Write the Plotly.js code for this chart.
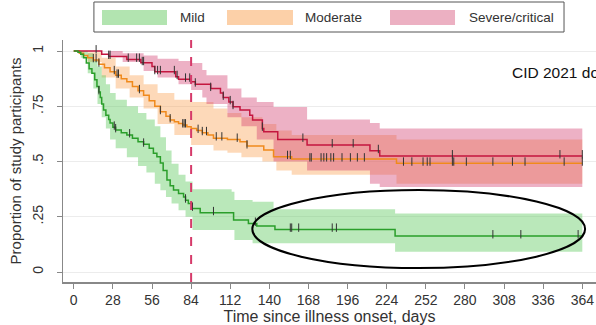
<!DOCTYPE html>
<html>
<head>
<meta charset="utf-8">
<script src="https://cdn.plot.ly/plotly-3.0.1.min.js"></script>
<style>html,body{margin:0;padding:0;overflow:hidden;background:#fff}#chart{width:596px;height:325px}</style>
</head>
<body>
<div id="chart"></div>
<script>
// ---------- data ----------
const groupNames = ["Mild", "Moderate", "Severe/critical"];

const mildTime = [0,3,5,7,9,11,13,15,16.6,18,19,20,21.3,23,25,26,28,30,34,38,42,46,50,54,57,59.5,62,64,66.7,69,71.4,75,78.6,80,82,84.6,90.5,114.4,125,131,144,230,364];
const mildSurv = [1.0,0.995,0.985,0.97,0.946,0.92,0.90,0.87,0.84,0.815,0.79,0.76,0.733,0.71,0.69,0.674,0.655,0.643,0.63,0.62,0.605,0.59,0.578,0.56,0.538,0.522,0.493,0.46,0.416,0.39,0.371,0.355,0.34,0.325,0.31,0.288,0.268,0.235,0.22,0.208,0.193,0.163,0.163];
const mildBandTime = [0,5,10,14,17,20,23,26,30,38,46,52,58,62,66,70,75,80,85,113,115,128,143,230,364];
const mildUpper = [1.0,1.0,0.99,0.96,0.93,0.89,0.85,0.81,0.78,0.75,0.72,0.69,0.66,0.61,0.55,0.49,0.44,0.41,0.375,0.363,0.326,0.318,0.284,0.265,0.265];
const mildLower = [1.0,0.97,0.90,0.83,0.76,0.70,0.65,0.60,0.56,0.52,0.48,0.45,0.40,0.37,0.34,0.31,0.28,0.25,0.19,0.19,0.145,0.13,0.13,0.092,0.092];
const mildCensor = [18,29,30,40,50,80,85,100,130,155,156,161,185,188,300,320,361];

const modTime = [0,4,7,10,14,18,22,26,30,34,38,42,46,50,54,58,62,66,69,72,75,78,81,84,88,92,96,100,110,119,124,136,143,156,231,364];
const modSurv = [1.0,0.99,0.98,0.97,0.96,0.94,0.925,0.906,0.89,0.875,0.861,0.84,0.82,0.80,0.775,0.75,0.725,0.705,0.688,0.68,0.672,0.665,0.657,0.65,0.64,0.63,0.62,0.606,0.60,0.59,0.57,0.552,0.522,0.511,0.492,0.492];
const modBandTime = [0,10,20,30,40,50,60,72,84,100,110,120,135,145,156,231,364];
const modUpper = [1.0,0.995,0.97,0.93,0.89,0.85,0.81,0.78,0.77,0.74,0.72,0.70,0.67,0.64,0.62,0.60,0.59];
const modLower = [1.0,0.95,0.88,0.83,0.79,0.74,0.67,0.62,0.575,0.55,0.54,0.52,0.50,0.46,0.44,0.40,0.40];
const modCensor = [14,16,18,29,31,32,47,62,69,78,79,80,89,92,95,102,106,117,124,153,155,169,170,177,179,181,184,186,192,198,203,208,236,242,250,253,255,271,272,281,300,314,323,351,364];

const sevTime = [0,20,25,38,48,56,58,73,75,84,87,98,105,107,111,114,119,126,128,135,136,146,167,212,219,364];
const sevSurv = [1.0,0.985,0.975,0.962,0.947,0.93,0.906,0.884,0.872,0.861,0.85,0.83,0.81,0.79,0.77,0.748,0.733,0.71,0.688,0.65,0.635,0.60,0.575,0.549,0.525,0.525];
const sevBandTime = [0,25,35,50,60,75,84,92,95,110,120,131,143,167,212,219,364];
const sevUpper = [1.0,1.0,0.99,0.98,0.965,0.955,0.946,0.914,0.89,0.83,0.79,0.77,0.747,0.69,0.674,0.65,0.65];
const sevLower = [1.0,0.975,0.95,0.91,0.88,0.85,0.824,0.79,0.76,0.70,0.66,0.60,0.50,0.46,0.40,0.385,0.385];
const sevCensor = [16,25,26,39,45,47,49,50,58,60,62,72,74,80,83,87,98,107,112,114,135,164,185,200,218,271,348,364];

const xTicks = [0,28,56,84,112,140,168,196,224,252,280,308,336,364];
const yTicks = [0,0.25,0.5,0.75,1];
const yTickText = ["0",".25",".5",".75","1"];
const referenceDay = 84;

// ---------- styles ----------
const FONT = "Liberation Sans, Arial, sans-serif";
const colors = {
  mild:  {line: "#2a9e2a", band: "rgba(90,200,90,0.42)", swatch: "#b2e4b0"},
  mod:   {line: "#f08a1c", band: "rgba(250,160,80,0.40)", swatch: "#fcd0a8"},
  sev:   {line: "#c4163f", band: "rgba(210,60,110,0.40)", swatch: "#ecb0c2"}
};

function stepAt(times, vals, t) {
  let v = vals[0];
  for (let i = 0; i < times.length; i++) { if (times[i] <= t) v = vals[i]; }
  return v;
}

function band(t, up, lo, col) {
  return [
    {x: t, y: up, type: "scatter", mode: "lines", line: {width: 0, shape: "hv"}, hoverinfo: "skip", showlegend: false},
    {x: t, y: lo, type: "scatter", mode: "lines", line: {width: 0, shape: "hv"}, fill: "tonexty", fillcolor: col, hoverinfo: "skip", showlegend: false}
  ];
}
function curve(t, s, col) {
  return {x: t, y: s, type: "scatter", mode: "lines", line: {color: col, width: 1.5, shape: "hv"}, showlegend: false};
}
function censor(c, t, s) {
  return {x: c, y: c.map(d => stepAt(t, s, d) + 0.008), type: "scatter", mode: "markers",
          marker: {symbol: "line-ns-open", size: 6, color: "#333", line: {width: 1, color: "#333"}}, showlegend: false};
}

const traces = [].concat(
  band(modBandTime, modUpper, modLower, colors.mod.band),
  band(sevBandTime, sevUpper, sevLower, colors.sev.band),
  band(mildBandTime, mildUpper, mildLower, colors.mild.band),
  [curve(modTime, modSurv, colors.mod.line),
   curve(sevTime, sevSurv, colors.sev.line),
   curve(mildTime, mildSurv, colors.mild.line),
   censor(mildCensor, mildTime, mildSurv),
   censor(modCensor, modTime, modSurv),
   censor(sevCensor, sevTime, sevSurv)]
);

// legend drawn as shapes/annotations (paper coords)
const legendBox = {type: "rect", xref: "paper", yref: "paper", x0: 0.058, x1: 0.94, y0: 1.033, y1: 1.157, line: {color: "#555", width: 1}, fillcolor: "rgba(0,0,0,0)"};
const swatches = [
  {x0: 0.0732, x1: 0.1951, c: colors.mild.swatch},
  {x0: 0.3077, x1: 0.4315, c: colors.mod.swatch},
  {x0: 0.6135, x1: 0.7355, c: colors.sev.swatch}
].map(s => ({type: "rect", xref: "paper", yref: "paper", x0: s.x0, x1: s.x1, y0: 1.062, y1: 1.124, line: {width: 0}, fillcolor: s.c}));
const legendTextX = [0.2158, 0.4503, 0.758];
const legendAnn = groupNames.map((n, i) => ({xref: "paper", yref: "paper", x: legendTextX[i], y: 1.095, xanchor: "left", yanchor: "middle", text: n, showarrow: false, font: {family: FONT, size: 13.5, color: "#333"}}));

const layout = {
  width: 596, height: 325,
  margin: {l: 63, r: 0, t: 40, b: 43},
  paper_bgcolor: "#fff", plot_bgcolor: "#fff",
  font: {family: FONT, color: "#333"},
  xaxis: {
    range: [-7.7, 373.8], tickvals: xTicks, ticktext: xTicks.map(String),
    showgrid: false, zeroline: false, showline: true, linecolor: "#888", linewidth: 1.5,
    ticks: "outside", ticklen: 5, tickcolor: "#888", tickfont: {size: 14, color: "#333"},
    title: {text: "Time since illness onset, days", font: {size: 16, color: "#333"}, standoff: 2}
  },
  yaxis: {
    range: [-0.045, 1.05], tickvals: yTicks, ticktext: yTickText, tickangle: -90,
    showgrid: true, gridcolor: "#ececec", gridwidth: 1, zeroline: false,
    showline: true, linecolor: "#888", linewidth: 1.5,
    ticks: "outside", ticklen: 5, tickcolor: "#888", tickfont: {size: 14, color: "#333"},
    ticklabelstandoff: 8,
    title: {text: "Proportion of study participants", font: {size: 15, color: "#333"}, standoff: 4}
  },
  shapes: [
    {type: "line", xref: "x", yref: "paper", x0: referenceDay, x1: referenceDay, y0: 0, y1: 1, line: {color: "#d63a6a", width: 2, dash: "dash"}},
    {type: "circle", xref: "x", yref: "y", x0: 127.8, x1: 366, y0: 0.018, y1: 0.371, line: {color: "#000", width: 2}},
    legendBox
  ].concat(swatches),
  annotations: legendAnn.concat([
    {xref: "paper", yref: "paper", x: 0.8386, y: 0.865, xanchor: "left", yanchor: "middle", text: "CID 2021 doi", showarrow: false, font: {family: FONT, size: 15.5, color: "#111"}}
  ]),
  showlegend: false
};

Plotly.newPlot("chart", traces, layout, {displayModeBar: false, staticPlot: true});
</script>
</body>
</html>
